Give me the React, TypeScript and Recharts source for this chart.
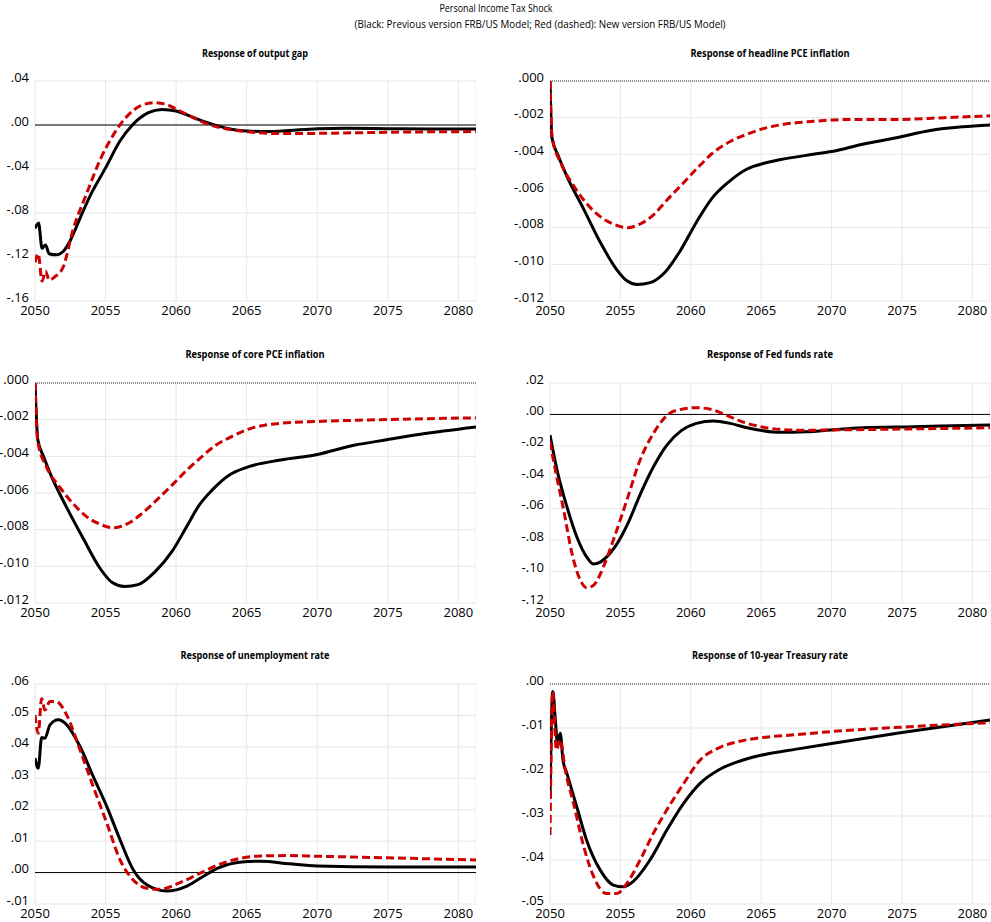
import React from 'react';
import { LineChart, Line, XAxis, YAxis, CartesianGrid, ReferenceLine } from 'recharts';

type P = [number, number][];

const xTicks = [2050, 2055, 2060, 2065, 2070, 2075, 2080];

const outputGapPrev: P = [[2050.0,-0.094],[2050.25,-0.089],[2050.5,-0.112],[2050.75,-0.109],[2051.0,-0.117],[2051.5,-0.118],[2052.0,-0.115],[2052.5,-0.105],[2053.25,-0.083],[2054.0,-0.062],[2055.0,-0.039],[2056.0,-0.015],[2056.9,0.0],[2058.0,0.011],[2059.0,0.0142],[2060.0,0.0128],[2061.0,0.008],[2062.0,0.003],[2063.0,-0.001],[2064.0,-0.004],[2065.0,-0.0055],[2066.5,-0.006],[2068.0,-0.005],[2070.0,-0.0035],[2072.0,-0.003],[2075.0,-0.0033],[2078.0,-0.0036],[2081.25,-0.0037]];
const outputGapNew: P = [[2050.0,-0.125],[2050.23,-0.117],[2050.5,-0.142],[2050.75,-0.133],[2051.0,-0.141],[2051.4,-0.138],[2052.0,-0.129],[2052.7,-0.095],[2053.67,-0.062],[2054.6,-0.032],[2055.55,-0.009],[2056.5,0.0076],[2057.45,0.0173],[2058.4,0.0203],[2059.3,0.0188],[2060.0,0.0145],[2061.0,0.008],[2062.0,0.002],[2063.0,-0.002],[2064.0,-0.0045],[2065.0,-0.006],[2066.5,-0.0076],[2068.0,-0.0078],[2070.0,-0.0076],[2072.0,-0.0072],[2075.0,-0.0066],[2078.0,-0.0062],[2081.25,-0.006]];

const headlinePrev: P = [[2050.0,0],[2050.14,-0.0031],[2050.6,-0.0041],[2051.2,-0.0052],[2052.4,-0.0070],[2053.57,-0.0088],[2054.75,-0.0103],[2055.46,-0.0109],[2056.2,-0.0111],[2057.1,-0.0110],[2058.2,-0.0104],[2059.3,-0.0092],[2060.4,-0.0077],[2061.5,-0.0064],[2062.7,-0.0055],[2064.0,-0.0048],[2065.15,-0.0045],[2066.3,-0.0043],[2068.7,-0.0040],[2070.0,-0.00385],[2072.2,-0.00345],[2074.6,-0.0031],[2077.0,-0.0027],[2079.3,-0.0025],[2081.25,-0.0024]];
const headlineNew: P = [[2050.0,0],[2050.14,-0.0030],[2050.85,-0.0046],[2051.67,-0.0057],[2052.62,-0.0067],[2053.57,-0.0074],[2054.5,-0.0078],[2055.5,-0.0080],[2056.4,-0.0078],[2057.35,-0.0073],[2058.3,-0.0065],[2059.3,-0.0057],[2060.4,-0.0048],[2061.6,-0.0039],[2062.8,-0.0033],[2064.0,-0.0029],[2065.15,-0.0026],[2066.3,-0.0024],[2068.7,-0.0022],[2071.0,-0.0021],[2074.6,-0.0021],[2078.0,-0.0020],[2081.25,-0.0019]];

const corePrev: P = [[2050.0,0],[2050.2,-0.0031],[2050.6,-0.0040],[2051.06,-0.0049],[2052.25,-0.0068],[2053.43,-0.0085],[2054.6,-0.0101],[2055.5,-0.0109],[2056.35,-0.0111],[2057.3,-0.0110],[2058.5,-0.0103],[2059.7,-0.0092],[2060.7,-0.0079],[2061.6,-0.0067],[2062.6,-0.0058],[2063.8,-0.0050],[2065.0,-0.0046],[2067.4,-0.0042],[2070.0,-0.0039],[2072.6,-0.0034],[2074.9,-0.0031],[2077.3,-0.0028],[2081.25,-0.0024]];
const coreNew: P = [[2050.0,0],[2050.2,-0.0032],[2050.83,-0.0046],[2051.77,-0.0057],[2052.72,-0.0066],[2053.67,-0.0073],[2054.6,-0.0077],[2055.55,-0.0079],[2056.5,-0.0077],[2057.45,-0.0072],[2058.6,-0.0064],[2059.8,-0.0055],[2060.7,-0.0048],[2061.7,-0.0041],[2062.8,-0.0034],[2064.0,-0.0029],[2065.2,-0.0025],[2067.4,-0.0022],[2070.0,-0.0021],[2074.5,-0.0020],[2081.25,-0.0019]];

const fedPrev: P = [[2050.0,-0.0131],[2050.5,-0.0354],[2051.2,-0.0587],[2051.9,-0.0778],[2052.6,-0.0906],[2053.1,-0.0952],[2053.6,-0.0938],[2054.1,-0.0900],[2054.6,-0.0845],[2055.1,-0.0770],[2055.6,-0.0680],[2056.4,-0.0510],[2057.35,-0.0333],[2058.3,-0.0195],[2059.3,-0.0105],[2060.4,-0.0057],[2061.6,-0.0042],[2062.8,-0.0057],[2064.0,-0.0085],[2065.15,-0.0104],[2066.3,-0.0114],[2068.2,-0.0110],[2069.9,-0.0099],[2072.2,-0.0085],[2075.8,-0.0078],[2081.25,-0.0067]];
const fedNew: P = [[2050.0,-0.0174],[2050.38,-0.0354],[2050.97,-0.0608],[2051.56,-0.0884],[2052.15,-0.1054],[2052.62,-0.1103],[2053.1,-0.1086],[2053.8,-0.0969],[2054.5,-0.0799],[2055.46,-0.0545],[2056.4,-0.029],[2057.35,-0.012],[2058.5,0.0007],[2059.3,0.0032],[2060.4,0.0043],[2061.6,0.0028],[2062.8,-0.0015],[2064.0,-0.0057],[2065.15,-0.0081],[2066.3,-0.0095],[2068.2,-0.0101],[2069.9,-0.0099],[2073.4,-0.0095],[2081.25,-0.0085]];

const unempPrev: P = [[2050.0,0.0364],[2050.23,0.0332],[2050.47,0.0430],[2050.7,0.0427],[2051.06,0.0470],[2051.65,0.0486],[2052.25,0.0470],[2053.19,0.0401],[2054.13,0.0305],[2055.09,0.0210],[2056.03,0.0104],[2056.97,0.0008],[2057.92,-0.0039],[2059.34,-0.0059],[2060.76,-0.0043],[2061.7,-0.0018],[2063.0,0.0015],[2064.5,0.0033],[2066.0,0.0036],[2068.0,0.0028],[2070.0,0.0021],[2075.0,0.0018],[2081.25,0.0018]];
const unempNew: P = [[2050.0,0.0501],[2050.23,0.0443],[2050.47,0.0554],[2050.7,0.0517],[2051.06,0.0544],[2051.5,0.0544],[2052.25,0.0501],[2053.19,0.039],[2054.13,0.0273],[2055.09,0.0157],[2056.03,0.0040],[2056.97,-0.0024],[2057.92,-0.0050],[2058.87,-0.0053],[2060.28,-0.0032],[2061.7,-0.0002],[2063.0,0.0025],[2064.5,0.0045],[2066.0,0.0053],[2068.0,0.0054],[2070.0,0.0052],[2075.0,0.0047],[2081.25,0.0040]];

const treasPrev: P = [[2050.0,-0.026],[2050.2,-0.0017],[2050.38,-0.0082],[2050.54,-0.0135],[2050.73,-0.0112],[2050.92,-0.0173],[2051.2,-0.0203],[2051.9,-0.0279],[2052.6,-0.0355],[2053.57,-0.0423],[2054.5,-0.0457],[2055.2,-0.0461],[2055.9,-0.0449],[2057.1,-0.0400],[2058.3,-0.0332],[2059.5,-0.0271],[2060.66,-0.0226],[2062.0,-0.0195],[2063.5,-0.0175],[2065.0,-0.0162],[2067.5,-0.0148],[2070.0,-0.0135],[2075.0,-0.0110],[2081.25,-0.0082]];
const treasNew: P = [[2050.0,-0.0343],[2050.2,-0.0017],[2050.45,-0.015],[2050.73,-0.0127],[2051.08,-0.0195],[2051.67,-0.0271],[2052.4,-0.037],[2053.1,-0.0438],[2054.0,-0.0476],[2054.75,-0.0476],[2055.46,-0.0453],[2056.4,-0.040],[2057.35,-0.0339],[2058.3,-0.0286],[2059.5,-0.0226],[2060.66,-0.0173],[2062.0,-0.0145],[2063.5,-0.013],[2065.0,-0.0122],[2067.5,-0.0115],[2070.0,-0.0108],[2075.0,-0.0098],[2081.25,-0.0088]];

const FONT = "'Open Sans', 'Noto Sans', sans-serif";
const TOPPAD = 12;

const toPts = (arr: P) => arr.map(([t, v]) => ({ t, v }));
const fmt = (d: number) => (v: number) => {
  const s = Math.abs(v) < 1e-9 ? (0).toFixed(d) : v.toFixed(d);
  return s.replace(/^(-?)0\./, '$1.');
};

type PanelProps = {
  left: number; top: number; width: number; yw: number;
  domain: [number, number]; ticks: number[]; dec: number;
  prev: P; next: P; zeroTop?: boolean;
};

function Panel({ left, top, width, yw, domain, ticks, dec, prev, next, zeroTop }: PanelProps) {
  return (
    <div style={{ position: 'absolute', left, top: top - TOPPAD }}>
      <LineChart width={width} height={220 + TOPPAD + 25} margin={{ top: TOPPAD, right: 0, bottom: 0, left: 0 }}>
        <CartesianGrid stroke="#e6e6e6" strokeWidth={1} />
        <XAxis dataKey="t" type="number" domain={[2050, 2081.25]} ticks={xTicks} allowDataOverflow
          axisLine={false} tickLine={false} tickSize={2} tickMargin={3} height={25}
          tick={{ fontSize: 13, fill: '#000', fontFamily: FONT }} interval={0} />
        <YAxis type="number" domain={domain} ticks={ticks} allowDataOverflow width={yw}
          axisLine={false} tickLine={false} tickSize={4} tickMargin={2} interval={0}
          tickFormatter={fmt(dec)}
          tick={{ fontSize: 13, fill: '#000', fontFamily: FONT, dy: -4 }} />
        <ReferenceLine y={0} stroke={zeroTop ? '#333' : '#000'} strokeWidth={1} strokeDasharray={zeroTop ? '1 1' : undefined} />
        <Line data={toPts(prev)} dataKey="v" type="monotone" stroke="#000" strokeWidth={3}
          dot={false} activeDot={false} isAnimationActive={false} />
        <Line data={toPts(next)} dataKey="v" type="monotone" stroke="#CC0000" strokeWidth={3}
          strokeDasharray="8 4" dot={false} activeDot={false} isAnimationActive={false} />
      </LineChart>
    </div>
  );
}

const titles: { text: string; x: number; y: number; len: number; bold?: boolean; size: number }[] = [
  { text: 'Personal Income Tax Shock', x: 496, y: 7, len: 113, size: 11 },
  { text: '(Black: Previous version FRB/US Model; Red (dashed): New version FRB/US Model)', x: 540, y: 23, len: 371, size: 11 },
  { text: 'Response of output gap', x: 255, y: 53, len: 106, bold: true, size: 10 },
  { text: 'Response of headline PCE inflation', x: 770, y: 53, len: 159, bold: true, size: 10 },
  { text: 'Response of core PCE inflation', x: 255, y: 354, len: 139, bold: true, size: 10 },
  { text: 'Response of Fed funds rate', x: 770, y: 354, len: 126, bold: true, size: 10 },
  { text: 'Response of unemployment rate', x: 255, y: 655, len: 149, bold: true, size: 10 },
  { text: 'Response of 10-year Treasury rate', x: 770, y: 655, len: 156, bold: true, size: 10 },
];

export default function App() {
  return (
    <div style={{ position: 'absolute', left: 0, top: 0, width: 991, height: 922, background: '#fff', overflow: 'hidden' }}>
      <Panel left={0} top={81} width={476} yw={35} domain={[-0.16, 0.04]} ticks={[-0.16, -0.12, -0.08, -0.04, 0, 0.04]} dec={2} prev={outputGapPrev} next={outputGapNew} />
      <Panel left={500} top={81} width={490} yw={50} domain={[-0.012, 0]} ticks={[-0.012, -0.01, -0.008, -0.006, -0.004, -0.002, 0]} dec={3} prev={headlinePrev} next={headlineNew} zeroTop />
      <Panel left={0} top={383} width={476} yw={35} domain={[-0.012, 0]} ticks={[-0.012, -0.01, -0.008, -0.006, -0.004, -0.002, 0]} dec={3} prev={corePrev} next={coreNew} zeroTop />
      <Panel left={500} top={383} width={490} yw={50} domain={[-0.12, 0.02]} ticks={[-0.12, -0.1, -0.08, -0.06, -0.04, -0.02, 0, 0.02]} dec={2} prev={fedPrev} next={fedNew} />
      <Panel left={0} top={684} width={476} yw={35} domain={[-0.01, 0.06]} ticks={[-0.01, 0, 0.01, 0.02, 0.03, 0.04, 0.05, 0.06]} dec={2} prev={unempPrev} next={unempNew} />
      <Panel left={500} top={684} width={490} yw={50} domain={[-0.05, 0]} ticks={[-0.05, -0.04, -0.03, -0.02, -0.01, 0]} dec={2} prev={treasPrev} next={treasNew} zeroTop />
      <svg width={991} height={922} style={{ position: 'absolute', left: 0, top: 0, pointerEvents: 'none' }}>
        {titles.map((t) => (
          <text key={t.text} x={t.x} y={t.y} textAnchor="middle" dominantBaseline="central"
            fontFamily={FONT} fontSize={t.size} fontWeight={t.bold ? 700 : 400} fill="#000"
            textLength={t.len} lengthAdjust="spacingAndGlyphs">{t.text}</text>
        ))}
      </svg>
    </div>
  );
}
